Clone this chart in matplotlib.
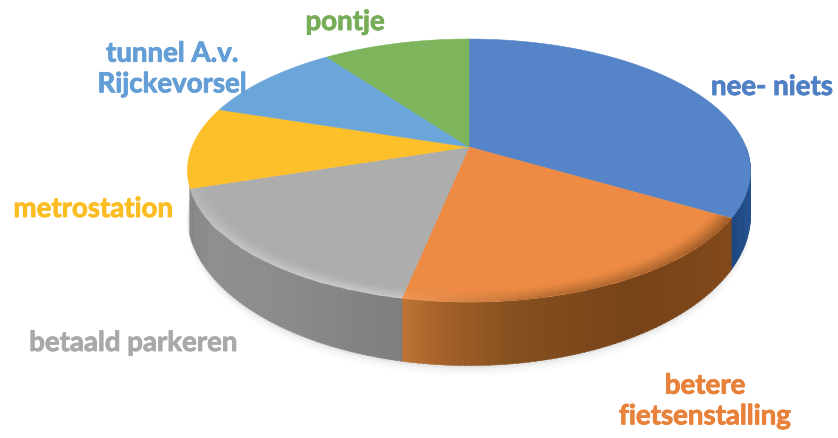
import numpy as np
import matplotlib.pyplot as plt
import matplotlib.patheffects as pe
from matplotlib.patches import Polygon
from matplotlib.colors import to_rgb

# aandeel per antwoord, met de klok mee vanaf boven
labels = ['nee- niets', 'betere\nfietsenstalling', 'betaald parkeren', 'metrostation',
          'tunnel A.v.\nRijckevorsel', 'pontje']
values = [33.5, 19.7, 16.8, 10, 10, 10]

top_colors = ['#5585c8', '#ed8b45', '#adadad', '#fdc02a', '#6aa6da', '#7eb45c']
text_colors = ['#4f7fc4', '#e8813a', '#a9a9a9', '#fbbd22', '#639ed6', '#78ad58']

# schaduw op de zijkant: (hoek, kleur)
wall_stops = [
    [(90, '#2a5a9c'), (121, '#1c4680')],
    [(120.6, '#83491b'), (150, '#774318'), (172, '#85501f'), (184, '#a5612a'), (191.5, '#c07634')],
    [(191.5, '#7f7f7f'), (215, '#8c8c8c'), (235, '#8f8f8f'), (252, '#858585')],
]

# positie van de taart in pixels
cx, cy = 469, 148
rx, ry = 277, 127.3
persp = 0.179
wall_h = 42


def project(theta, r=1.0):
    # theta in graden, met de klok mee vanaf boven
    t = np.radians(theta)
    X, Y = r * np.sin(t), r * np.cos(t)
    w = 1 + persp * Y
    return cx + rx * X / w, cy - ry * Y / w, w


plt.rcParams['font.family'] = ['Lato', 'DejaVu Sans']
fig = plt.figure(figsize=(8.38, 4.39), dpi=100)
ax = fig.add_axes([0, 0, 1, 1])
ax.set_xlim(0, 838)
ax.set_ylim(439, 0)
ax.axis('off')

edges = np.concatenate([[0], np.cumsum(values)]) / sum(values) * 360

# zachte schaduw onder de taart
th = np.arange(85, 275, 2.0)
sx, sy, sw = project(th)
sh = wall_h / sw ** 2.1
for grow, alpha in [(10, 0.015), (7, 0.02), (4, 0.03), (2, 0.04)]:
    px = np.concatenate([sx, sx[::-1]])
    py = np.concatenate([sy, (sy + sh + grow)[::-1]])
    ax.add_patch(Polygon(np.c_[px, py], fc='black', ec='none', alpha=alpha, zorder=1))

# zijkant in smalle stroken
for stops in wall_stops:
    angles = [s[0] for s in stops]
    rgb = np.array([to_rgb(s[1]) for s in stops])
    for a in np.arange(angles[0], angles[-1], 1.0):
        x, y, w = project(np.array([a, a + 1.2]))
        h = wall_h / w ** 2.1
        col = [np.interp(a, angles, rgb[:, i]) for i in range(3)]
        pts = np.c_[np.r_[x, x[::-1]], np.r_[y, (y + h)[::-1]]]
        ax.add_patch(Polygon(pts, fc=col, ec=col, lw=0.3, zorder=2))

# bovenvlak
for i in range(len(values)):
    th = np.linspace(edges[i], edges[i + 1], 80)
    x, y, w = project(th)
    pts = np.c_[np.r_[cx, x], np.r_[cy, y]]
    ax.add_patch(Polygon(pts, fc=top_colors[i], ec=top_colors[i], lw=0.4, zorder=3))

# afgeronde rand aan de voorkant: oranje loopt donker weg, grijs krijgt een lichte streep
radii = np.linspace(0.93, 1.0, 15)
mid = (radii[:-1] + radii[1:]) / 2

th = np.linspace(edges[1], edges[2], 90)
T, R = np.meshgrid(th, radii)
X, Y, _ = project(T, R)
tc = (th[:-1] + th[1:]) / 2
f = (mid - 0.93) / 0.07
C = np.zeros((len(mid), len(tc), 4))
rim_col = np.array([np.interp(tc, [edges[1], 165, edges[2]], [to_rgb(c)[k] for c in ('#8a5020', '#a9652c', '#f29a58')])
                    for k in range(3)]).T
C[:, :, :3] = rim_col
C[:, :, 3] = (f ** 1.5)[:, None]
ax.pcolormesh(X, Y, C, shading='flat', antialiased=True, linewidth=0, zorder=4)

th = np.linspace(edges[2], edges[3], 70)
T, R = np.meshgrid(th, radii)
X, Y, _ = project(T, R)
tc = (th[:-1] + th[1:]) / 2
f = (mid - 0.93) / 0.07
C = np.zeros((len(mid), len(tc), 4))
C[:, :, :3] = to_rgb('#d2d2d2')
fade = np.interp(tc, [edges[2], 205, 235, edges[3]], [0.9, 1.0, 0.7, 0.25])
C[:, :, 3] = np.outer(f ** 2, fade)
ax.pcolormesh(X, Y, C, shading='flat', antialiased=True, linewidth=0, zorder=4)

# labels
label_pos = [(772, 88), (705, 402), (133, 344), (93, 210), (172, 70), (345, 23)]
for i in range(len(labels)):
    x, y = label_pos[i]
    ax.text(x, y, labels[i], color=text_colors[i], fontsize=19.9, fontweight='bold',
            ha='center', va='center', linespacing=1.22, zorder=6,
            path_effects=[pe.withStroke(linewidth=0.6, foreground=text_colors[i])])

fig.savefig('out.png', dpi=100)
